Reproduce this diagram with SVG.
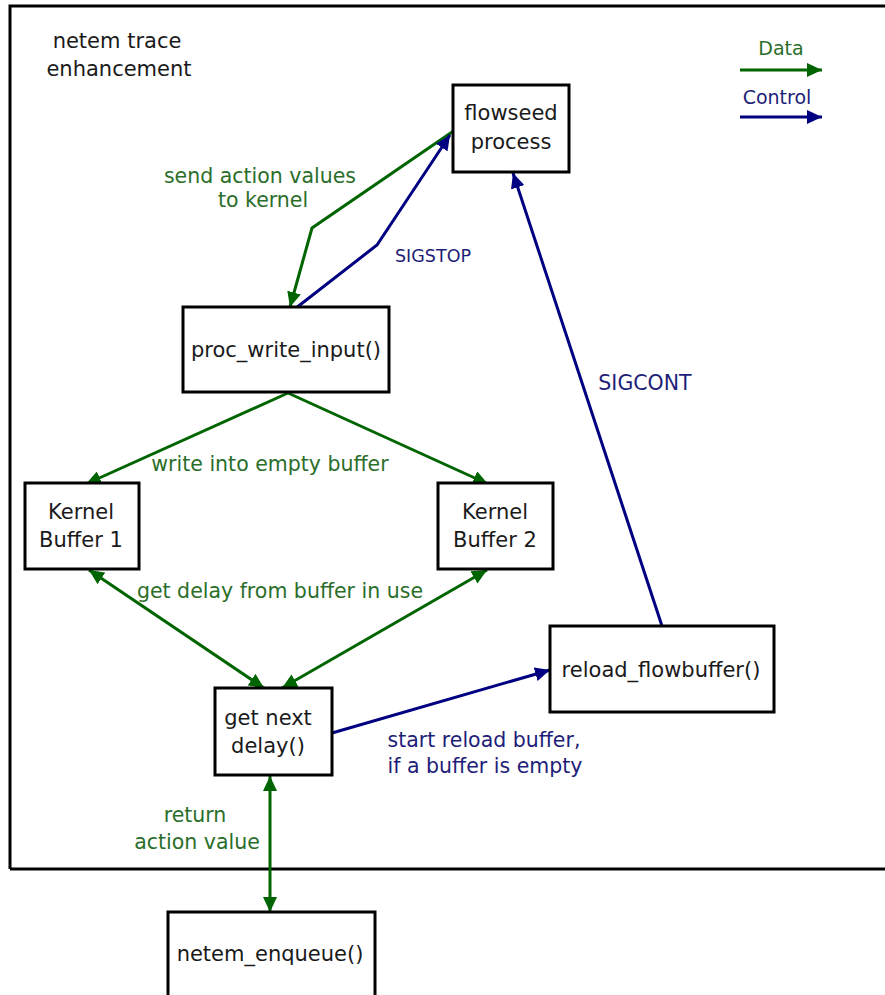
<svg xmlns="http://www.w3.org/2000/svg" width="885" height="995" viewBox="0 0 885 995">
<defs>
<marker id="ag" markerUnits="userSpaceOnUse" markerWidth="16" markerHeight="14" refX="15" refY="7" orient="auto-start-reverse"><path d="M0,0 L15,7 L0,14 z" fill="#006400"/></marker>
<marker id="ab" markerUnits="userSpaceOnUse" markerWidth="16" markerHeight="14" refX="15" refY="7" orient="auto-start-reverse"><path d="M0,0 L15,7 L0,14 z" fill="#000080"/></marker>
</defs>
<style>
.box{fill:#fff;stroke:#000;stroke-width:3}
.t{font-family:"DejaVu Sans",sans-serif;font-size:21px;fill:#1a1a1a;text-anchor:middle}
.tg{font-family:"DejaVu Sans",sans-serif;font-size:20.5px;fill:#2a6e2a;text-anchor:middle}
.tb{font-family:"DejaVu Sans",sans-serif;font-size:20.5px;fill:#1e1e78;text-anchor:middle}
.g{fill:none;stroke:#006400;stroke-width:3}
.b{fill:none;stroke:#000080;stroke-width:3}
</style>
<rect width="885" height="995" fill="#fff"/>
<path d="M10,869 L10,6 L890,6 M10,869 L890,869" fill="none" stroke="#000" stroke-width="3"/>
<text class="t" x="117" y="48">netem trace</text>
<text class="t" x="119" y="76">enhancement</text>

<g id="legend">
<text class="tg" x="781" y="55" style="font-size:19px">Data</text>
<line class="g" x1="740" y1="70" x2="822" y2="70" marker-end="url(#ag)"/>
<text class="tb" x="777" y="104" style="font-size:19px">Control</text>
<line class="b" x1="740" y1="117" x2="822" y2="117" marker-end="url(#ab)"/>
</g>

<g id="connectors">
<polyline class="g" points="455,130 312,228 290,307" marker-end="url(#ag)"/>
<polyline class="b" points="296,308 377,245 450,135" marker-end="url(#ab)"/>
<line class="b" x1="662" y1="626" x2="513" y2="173" marker-end="url(#ab)"/>
<line class="g" x1="288" y1="393" x2="86" y2="484" marker-end="url(#ag)"/>
<line class="g" x1="288" y1="393" x2="488" y2="484" marker-end="url(#ag)"/>
<line class="g" x1="89" y1="570" x2="264" y2="688" marker-start="url(#ag)" marker-end="url(#ag)"/>
<line class="g" x1="487" y1="570" x2="282" y2="688" marker-start="url(#ag)" marker-end="url(#ag)"/>
<line class="b" x1="332" y1="733" x2="550" y2="670" marker-end="url(#ab)"/>
<line class="g" x1="270" y1="776" x2="270" y2="912" marker-start="url(#ag)" marker-end="url(#ag)"/>
</g>

<g id="labels">
<text class="tg" x="260" y="183">send action values</text>
<text class="tg" x="263" y="207">to kernel</text>
<text class="tb" x="433" y="262" style="font-size:17.5px">SIGSTOP</text>
<text class="tg" x="270" y="471">write into empty buffer</text>
<text class="tg" x="280" y="598">get delay from buffer in use</text>
<text class="tb" x="645" y="390">SIGCONT</text>
<text class="tb" x="484" y="747">start reload buffer,</text>
<text class="tb" x="485" y="773">if a buffer is empty</text>
<text class="tg" x="195" y="822">return</text>
<text class="tg" x="197" y="849">action value</text>
</g>

<g id="flowseed">
<rect class="box" x="453" y="85" width="116" height="87"/>
<text class="t" x="511" y="120">flowseed</text>
<text class="t" x="511" y="149">process</text>
</g>
<g id="proc_write_input">
<rect class="box" x="183" y="307" width="206" height="85"/>
<text class="t" x="286" y="357">proc_write_input()</text>
</g>
<g id="kernel_buffer_1">
<rect class="box" x="25" y="483" width="114" height="86"/>
<text class="t" x="81" y="519">Kernel</text>
<text class="t" x="81" y="547">Buffer 1</text>
</g>
<g id="kernel_buffer_2">
<rect class="box" x="438" y="483" width="115" height="86"/>
<text class="t" x="495" y="519">Kernel</text>
<text class="t" x="495" y="547">Buffer 2</text>
</g>
<g id="get_next_delay">
<rect class="box" x="215" y="688" width="117" height="87"/>
<text class="t" x="268" y="725">get next</text>
<text class="t" x="268" y="753">delay()</text>
</g>
<g id="reload_flowbuffer">
<rect class="box" x="550" y="626" width="224" height="86"/>
<text class="t" x="661" y="677">reload_flowbuffer()</text>
</g>
<g id="netem_enqueue">
<rect class="box" x="168" y="912" width="207" height="100"/>
<text class="t" x="270" y="961">netem_enqueue()</text>
</g>
</svg>
